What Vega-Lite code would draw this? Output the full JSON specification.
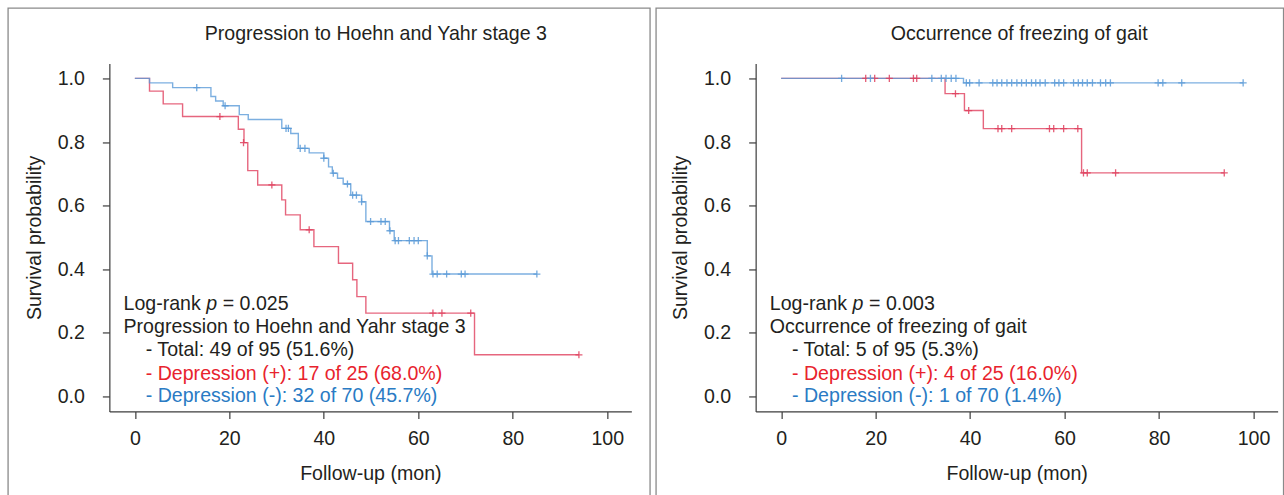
{
  "$schema": "https://vega.github.io/schema/vega-lite/v6.json",
  "autosize": {"type": "pad"},
  "padding": {"left": 7.35, "top": 7.45, "right": 0, "bottom": 0},
  "background": "white",
  "bounds": "flush",
  "spacing": 124.3,
  "config": {
    "view": {"stroke": null},
    "font": "Liberation Sans",
    "axis": {"grid": false, "domainColor": "#3c3c3c", "tickColor": "#3c3c3c", "domainWidth": 1.2, "tickWidth": 1.2, "labelColor": "#231f20", "titleColor": "#231f20", "labelFontSize": 19.6, "titleFontSize": 19.6, "titleFontWeight": "normal", "labelFont": "Liberation Sans", "titleFont": "Liberation Sans", "tickSize": 7},
    "axisX": {"labelPadding": 11, "titlePadding": 16},
    "axisY": {"labelPadding": 18, "titlePadding": 13}
  },
  "datasets": {
    "hy_km": [
      {"group": "Depression (+)", "t": 0, "s": 1},
      {"group": "Depression (+)", "t": 3.1, "s": 0.96},
      {"group": "Depression (+)", "t": 6.0, "s": 0.92},
      {"group": "Depression (+)", "t": 10.1, "s": 0.88},
      {"group": "Depression (+)", "t": 21.9, "s": 0.84},
      {"group": "Depression (+)", "t": 23.1, "s": 0.798},
      {"group": "Depression (+)", "t": 23.9, "s": 0.71},
      {"group": "Depression (+)", "t": 26.0, "s": 0.665},
      {"group": "Depression (+)", "t": 31.1, "s": 0.618},
      {"group": "Depression (+)", "t": 31.9, "s": 0.571},
      {"group": "Depression (+)", "t": 35.0, "s": 0.524},
      {"group": "Depression (+)", "t": 37.9, "s": 0.471},
      {"group": "Depression (+)", "t": 43.1, "s": 0.419},
      {"group": "Depression (+)", "t": 46.1, "s": 0.367},
      {"group": "Depression (+)", "t": 47.0, "s": 0.314},
      {"group": "Depression (+)", "t": 48.9, "s": 0.262},
      {"group": "Depression (+)", "t": 71.9, "s": 0.131},
      {"group": "Depression (+)", "t": 94.0, "s": 0.131},
      {"group": "Depression (-)", "t": 0, "s": 1},
      {"group": "Depression (-)", "t": 3.1, "s": 0.986},
      {"group": "Depression (-)", "t": 8.0, "s": 0.971},
      {"group": "Depression (-)", "t": 16.1, "s": 0.943},
      {"group": "Depression (-)", "t": 17.1, "s": 0.929},
      {"group": "Depression (-)", "t": 18.7, "s": 0.914},
      {"group": "Depression (-)", "t": 22.1, "s": 0.886},
      {"group": "Depression (-)", "t": 24.0, "s": 0.871},
      {"group": "Depression (-)", "t": 31.1, "s": 0.843},
      {"group": "Depression (-)", "t": 33.0, "s": 0.827},
      {"group": "Depression (-)", "t": 34.6, "s": 0.78},
      {"group": "Depression (-)", "t": 36.9, "s": 0.766},
      {"group": "Depression (-)", "t": 40.0, "s": 0.749},
      {"group": "Depression (-)", "t": 41.0, "s": 0.722},
      {"group": "Depression (-)", "t": 41.8, "s": 0.702},
      {"group": "Depression (-)", "t": 42.9, "s": 0.686},
      {"group": "Depression (-)", "t": 44.1, "s": 0.668},
      {"group": "Depression (-)", "t": 45.7, "s": 0.633},
      {"group": "Depression (-)", "t": 48.0, "s": 0.612},
      {"group": "Depression (-)", "t": 48.9, "s": 0.55},
      {"group": "Depression (-)", "t": 53.9, "s": 0.521},
      {"group": "Depression (-)", "t": 54.9, "s": 0.49},
      {"group": "Depression (-)", "t": 61.9, "s": 0.442},
      {"group": "Depression (-)", "t": 62.9, "s": 0.385},
      {"group": "Depression (-)", "t": 85.1, "s": 0.385}
    ],
    "hy_cens": [
      {"group": "Depression (+)", "t": 18.0, "s": 0.88},
      {"group": "Depression (+)", "t": 23.0, "s": 0.798},
      {"group": "Depression (+)", "t": 29.0, "s": 0.665},
      {"group": "Depression (+)", "t": 36.9, "s": 0.524},
      {"group": "Depression (+)", "t": 63.1, "s": 0.262},
      {"group": "Depression (+)", "t": 65.0, "s": 0.262},
      {"group": "Depression (+)", "t": 71.1, "s": 0.262},
      {"group": "Depression (+)", "t": 94.0, "s": 0.131},
      {"group": "Depression (-)", "t": 13.1, "s": 0.971},
      {"group": "Depression (-)", "t": 19.1, "s": 0.914},
      {"group": "Depression (-)", "t": 32.0, "s": 0.843},
      {"group": "Depression (-)", "t": 32.5, "s": 0.843},
      {"group": "Depression (-)", "t": 35.0, "s": 0.78},
      {"group": "Depression (-)", "t": 36.0, "s": 0.78},
      {"group": "Depression (-)", "t": 40.0, "s": 0.749},
      {"group": "Depression (-)", "t": 42.0, "s": 0.702},
      {"group": "Depression (-)", "t": 45.0, "s": 0.668},
      {"group": "Depression (-)", "t": 46.1, "s": 0.633},
      {"group": "Depression (-)", "t": 46.9, "s": 0.633},
      {"group": "Depression (-)", "t": 48.0, "s": 0.612},
      {"group": "Depression (-)", "t": 49.9, "s": 0.55},
      {"group": "Depression (-)", "t": 52.1, "s": 0.55},
      {"group": "Depression (-)", "t": 53.0, "s": 0.55},
      {"group": "Depression (-)", "t": 54.0, "s": 0.521},
      {"group": "Depression (-)", "t": 55.1, "s": 0.49},
      {"group": "Depression (-)", "t": 55.8, "s": 0.49},
      {"group": "Depression (-)", "t": 58.1, "s": 0.49},
      {"group": "Depression (-)", "t": 59.1, "s": 0.49},
      {"group": "Depression (-)", "t": 60.0, "s": 0.49},
      {"group": "Depression (-)", "t": 61.9, "s": 0.442},
      {"group": "Depression (-)", "t": 63.1, "s": 0.385},
      {"group": "Depression (-)", "t": 64.0, "s": 0.385},
      {"group": "Depression (-)", "t": 66.0, "s": 0.385},
      {"group": "Depression (-)", "t": 69.1, "s": 0.385},
      {"group": "Depression (-)", "t": 69.9, "s": 0.385},
      {"group": "Depression (-)", "t": 85.1, "s": 0.385}
    ],
    "fog_km": [
      {"group": "Depression (+)", "t": 0, "s": 1},
      {"group": "Depression (+)", "t": 34.7, "s": 0.952},
      {"group": "Depression (+)", "t": 38.8, "s": 0.899},
      {"group": "Depression (+)", "t": 42.8, "s": 0.842},
      {"group": "Depression (+)", "t": 63.6, "s": 0.703},
      {"group": "Depression (+)", "t": 93.8, "s": 0.703},
      {"group": "Depression (-)", "t": 0, "s": 1},
      {"group": "Depression (-)", "t": 38.6, "s": 0.986},
      {"group": "Depression (-)", "t": 97.8, "s": 0.986}
    ],
    "fog_cens": [
      {"group": "Depression (+)", "t": 17.9, "s": 1},
      {"group": "Depression (+)", "t": 19.8, "s": 1},
      {"group": "Depression (+)", "t": 22.9, "s": 1},
      {"group": "Depression (+)", "t": 28.0, "s": 1},
      {"group": "Depression (+)", "t": 28.7, "s": 1},
      {"group": "Depression (+)", "t": 36.9, "s": 0.952},
      {"group": "Depression (+)", "t": 39.7, "s": 0.899},
      {"group": "Depression (+)", "t": 45.9, "s": 0.842},
      {"group": "Depression (+)", "t": 46.7, "s": 0.842},
      {"group": "Depression (+)", "t": 48.8, "s": 0.842},
      {"group": "Depression (+)", "t": 56.8, "s": 0.842},
      {"group": "Depression (+)", "t": 57.7, "s": 0.842},
      {"group": "Depression (+)", "t": 59.8, "s": 0.842},
      {"group": "Depression (+)", "t": 62.8, "s": 0.842},
      {"group": "Depression (+)", "t": 64.0, "s": 0.703},
      {"group": "Depression (+)", "t": 64.8, "s": 0.703},
      {"group": "Depression (+)", "t": 70.8, "s": 0.703},
      {"group": "Depression (+)", "t": 93.8, "s": 0.703},
      {"group": "Depression (-)", "t": 12.8, "s": 1},
      {"group": "Depression (-)", "t": 18.9, "s": 1},
      {"group": "Depression (-)", "t": 31.9, "s": 1},
      {"group": "Depression (-)", "t": 33.9, "s": 1},
      {"group": "Depression (-)", "t": 34.9, "s": 1},
      {"group": "Depression (-)", "t": 36.0, "s": 1},
      {"group": "Depression (-)", "t": 37.0, "s": 1},
      {"group": "Depression (-)", "t": 39.2, "s": 0.986},
      {"group": "Depression (-)", "t": 39.9, "s": 0.986},
      {"group": "Depression (-)", "t": 41.9, "s": 0.986},
      {"group": "Depression (-)", "t": 44.8, "s": 0.986},
      {"group": "Depression (-)", "t": 45.7, "s": 0.986},
      {"group": "Depression (-)", "t": 46.7, "s": 0.986},
      {"group": "Depression (-)", "t": 47.8, "s": 0.986},
      {"group": "Depression (-)", "t": 48.8, "s": 0.986},
      {"group": "Depression (-)", "t": 49.9, "s": 0.986},
      {"group": "Depression (-)", "t": 50.9, "s": 0.986},
      {"group": "Depression (-)", "t": 51.9, "s": 0.986},
      {"group": "Depression (-)", "t": 53.0, "s": 0.986},
      {"group": "Depression (-)", "t": 53.9, "s": 0.986},
      {"group": "Depression (-)", "t": 54.8, "s": 0.986},
      {"group": "Depression (-)", "t": 55.9, "s": 0.986},
      {"group": "Depression (-)", "t": 57.9, "s": 0.986},
      {"group": "Depression (-)", "t": 58.8, "s": 0.986},
      {"group": "Depression (-)", "t": 59.8, "s": 0.986},
      {"group": "Depression (-)", "t": 61.9, "s": 0.986},
      {"group": "Depression (-)", "t": 62.9, "s": 0.986},
      {"group": "Depression (-)", "t": 63.8, "s": 0.986},
      {"group": "Depression (-)", "t": 64.8, "s": 0.986},
      {"group": "Depression (-)", "t": 65.9, "s": 0.986},
      {"group": "Depression (-)", "t": 67.6, "s": 0.986},
      {"group": "Depression (-)", "t": 68.7, "s": 0.986},
      {"group": "Depression (-)", "t": 69.7, "s": 0.986},
      {"group": "Depression (-)", "t": 79.8, "s": 0.986},
      {"group": "Depression (-)", "t": 80.8, "s": 0.986},
      {"group": "Depression (-)", "t": 84.8, "s": 0.986},
      {"group": "Depression (-)", "t": 97.8, "s": 0.986}
    ]
  },
  "hconcat": [
    {
      "width": 522,
      "height": 348,
      "layer": [
        {
          "data": {"values": [{}]},
          "mark": {"type": "rect", "fillOpacity": 0, "stroke": "#8a8a8a", "strokeWidth": 1.3, "clip": false},
          "encoding": {
            "x": {"datum": -26.84, "type": "quantitative"},
            "x2": {"datum": 109.06},
            "y": {"datum": 1.2208, "type": "quantitative"},
            "y2": {"datum": -0.5}
          }
        },
        {
          "data": {"name": "hy_km"},
          "mark": {"type": "line", "interpolate": "step-after", "strokeWidth": 1.4, "opacity": 0.8},
          "encoding": {
            "x": {"field": "t", "type": "quantitative", "scale": {"domain": [-5.4, 105.1], "nice": false, "zero": false}, "axis": {"values": [0, 20, 40, 60, 80, 100], "title": "Follow-up (mon)"}},
            "y": {"field": "s", "type": "quantitative", "scale": {"domain": [-0.047, 1.047], "nice": false, "zero": false}, "axis": {"values": [0, 0.2, 0.4, 0.6, 0.8, 1.0], "format": ".1f", "title": "Survival probability"}},
            "color": {"field": "group", "type": "nominal", "scale": {"domain": ["Depression (+)", "Depression (-)"], "range": ["#e0405e", "#5b9bd8"]}, "legend": null}
          }
        },
        {
          "data": {"name": "hy_cens"},
          "mark": {"type": "point", "shape": "M-1,0L1,0M0,-1L0,1", "filled": false, "size": 50, "strokeWidth": 1.3, "opacity": 0.85},
          "encoding": {
            "x": {"field": "t", "type": "quantitative"},
            "y": {"field": "s", "type": "quantitative"},
            "color": {"field": "group", "type": "nominal", "legend": null}
          }
        },
        {
          "data": {"values": [{}]},
          "mark": {"type": "text", "text": "Progression to Hoehn and Yahr stage 3", "align": "center", "baseline": "alphabetic", "fontSize": 19.6, "color": "#231f20", "clip": false},
          "encoding": {"x": {"datum": 51.0, "type": "quantitative"}, "y": {"datum": 1.12, "type": "quantitative"}}
        },
        {
          "data": {"values": [{}]},
          "mark": {"type": "text", "text": "Log-rank", "align": "left", "baseline": "middle", "fontSize": 19.6, "color": "#231f20"},
          "encoding": {"x": {"datum": -2.4, "type": "quantitative"}, "y": {"datum": 0.291, "type": "quantitative"}}
        },
        {
          "data": {"values": [{}]},
          "mark": {"type": "text", "text": "p", "align": "left", "baseline": "middle", "fontSize": 19.6, "fontStyle": "italic", "color": "#231f20", "dx": 82.8},
          "encoding": {"x": {"datum": -2.4, "type": "quantitative"}, "y": {"datum": 0.291, "type": "quantitative"}}
        },
        {
          "data": {"values": [{}]},
          "mark": {"type": "text", "text": "= 0.025", "align": "left", "baseline": "middle", "fontSize": 19.6, "color": "#231f20", "dx": 99.2},
          "encoding": {"x": {"datum": -2.4, "type": "quantitative"}, "y": {"datum": 0.291, "type": "quantitative"}}
        },
        {
          "data": {"values": [{}]},
          "mark": {"type": "text", "text": "Progression to Hoehn and Yahr stage 3", "align": "left", "baseline": "middle", "fontSize": 19.6, "color": "#231f20"},
          "encoding": {"x": {"datum": -2.4, "type": "quantitative"}, "y": {"datum": 0.218, "type": "quantitative"}}
        },
        {
          "data": {"values": [{}]},
          "mark": {"type": "text", "text": "- Total: 49 of 95 (51.6%)", "align": "left", "baseline": "middle", "fontSize": 19.6, "color": "#231f20"},
          "encoding": {"x": {"datum": 2.3, "type": "quantitative"}, "y": {"datum": 0.145, "type": "quantitative"}}
        },
        {
          "data": {"values": [{}]},
          "mark": {"type": "text", "text": "- Depression (+): 17 of 25 (68.0%)", "align": "left", "baseline": "middle", "fontSize": 19.6, "color": "#e8232d"},
          "encoding": {"x": {"datum": 2.3, "type": "quantitative"}, "y": {"datum": 0.072, "type": "quantitative"}}
        },
        {
          "data": {"values": [{}]},
          "mark": {"type": "text", "text": "- Depression (-): 32 of 70 (45.7%)", "align": "left", "baseline": "middle", "fontSize": 19.6, "color": "#2a7bc4"},
          "encoding": {"x": {"datum": 2.3, "type": "quantitative"}, "y": {"datum": 0.0, "type": "quantitative"}}
        }
      ]
    },
    {
      "width": 522,
      "height": 348,
      "layer": [
        {
          "data": {"values": [{}]},
          "mark": {"type": "rect", "fillOpacity": 0, "stroke": "#8a8a8a", "strokeWidth": 1.3, "clip": false},
          "encoding": {
            "x": {"datum": -26.48, "type": "quantitative"},
            "x2": {"datum": 106.35},
            "y": {"datum": 1.2208, "type": "quantitative"},
            "y2": {"datum": -0.5}
          }
        },
        {
          "data": {"name": "fog_km"},
          "mark": {"type": "line", "interpolate": "step-after", "strokeWidth": 1.4, "opacity": 0.8},
          "encoding": {
            "x": {"field": "t", "type": "quantitative", "scale": {"domain": [-5.4, 105.1], "nice": false, "zero": false}, "axis": {"values": [0, 20, 40, 60, 80, 100], "title": "Follow-up (mon)"}},
            "y": {"field": "s", "type": "quantitative", "scale": {"domain": [-0.047, 1.047], "nice": false, "zero": false}, "axis": {"values": [0, 0.2, 0.4, 0.6, 0.8, 1.0], "format": ".1f", "title": "Survival probability"}},
            "color": {"field": "group", "type": "nominal", "scale": {"domain": ["Depression (+)", "Depression (-)"], "range": ["#e0405e", "#5b9bd8"]}, "legend": null}
          }
        },
        {
          "data": {"name": "fog_cens"},
          "mark": {"type": "point", "shape": "M-1,0L1,0M0,-1L0,1", "filled": false, "size": 50, "strokeWidth": 1.3, "opacity": 0.85},
          "encoding": {
            "x": {"field": "t", "type": "quantitative"},
            "y": {"field": "s", "type": "quantitative"},
            "color": {"field": "group", "type": "nominal", "legend": null}
          }
        },
        {
          "data": {"values": [{}]},
          "mark": {"type": "text", "text": "Occurrence of freezing of gait", "align": "center", "baseline": "alphabetic", "fontSize": 19.6, "color": "#231f20", "clip": false},
          "encoding": {"x": {"datum": 50.4, "type": "quantitative"}, "y": {"datum": 1.12, "type": "quantitative"}}
        },
        {
          "data": {"values": [{}]},
          "mark": {"type": "text", "text": "Log-rank", "align": "left", "baseline": "middle", "fontSize": 19.6, "color": "#231f20"},
          "encoding": {"x": {"datum": -2.4, "type": "quantitative"}, "y": {"datum": 0.291, "type": "quantitative"}}
        },
        {
          "data": {"values": [{}]},
          "mark": {"type": "text", "text": "p", "align": "left", "baseline": "middle", "fontSize": 19.6, "fontStyle": "italic", "color": "#231f20", "dx": 82.8},
          "encoding": {"x": {"datum": -2.4, "type": "quantitative"}, "y": {"datum": 0.291, "type": "quantitative"}}
        },
        {
          "data": {"values": [{}]},
          "mark": {"type": "text", "text": "= 0.003", "align": "left", "baseline": "middle", "fontSize": 19.6, "color": "#231f20", "dx": 99.2},
          "encoding": {"x": {"datum": -2.4, "type": "quantitative"}, "y": {"datum": 0.291, "type": "quantitative"}}
        },
        {
          "data": {"values": [{}]},
          "mark": {"type": "text", "text": "Occurrence of freezing of gait", "align": "left", "baseline": "middle", "fontSize": 19.6, "color": "#231f20"},
          "encoding": {"x": {"datum": -2.4, "type": "quantitative"}, "y": {"datum": 0.218, "type": "quantitative"}}
        },
        {
          "data": {"values": [{}]},
          "mark": {"type": "text", "text": "- Total: 5 of 95 (5.3%)", "align": "left", "baseline": "middle", "fontSize": 19.6, "color": "#231f20"},
          "encoding": {"x": {"datum": 2.3, "type": "quantitative"}, "y": {"datum": 0.145, "type": "quantitative"}}
        },
        {
          "data": {"values": [{}]},
          "mark": {"type": "text", "text": "- Depression (+): 4 of 25 (16.0%)", "align": "left", "baseline": "middle", "fontSize": 19.6, "color": "#e8232d"},
          "encoding": {"x": {"datum": 2.3, "type": "quantitative"}, "y": {"datum": 0.072, "type": "quantitative"}}
        },
        {
          "data": {"values": [{}]},
          "mark": {"type": "text", "text": "- Depression (-): 1 of 70 (1.4%)", "align": "left", "baseline": "middle", "fontSize": 19.6, "color": "#2a7bc4"},
          "encoding": {"x": {"datum": 2.3, "type": "quantitative"}, "y": {"datum": 0.0, "type": "quantitative"}}
        }
      ]
    }
  ]
}
